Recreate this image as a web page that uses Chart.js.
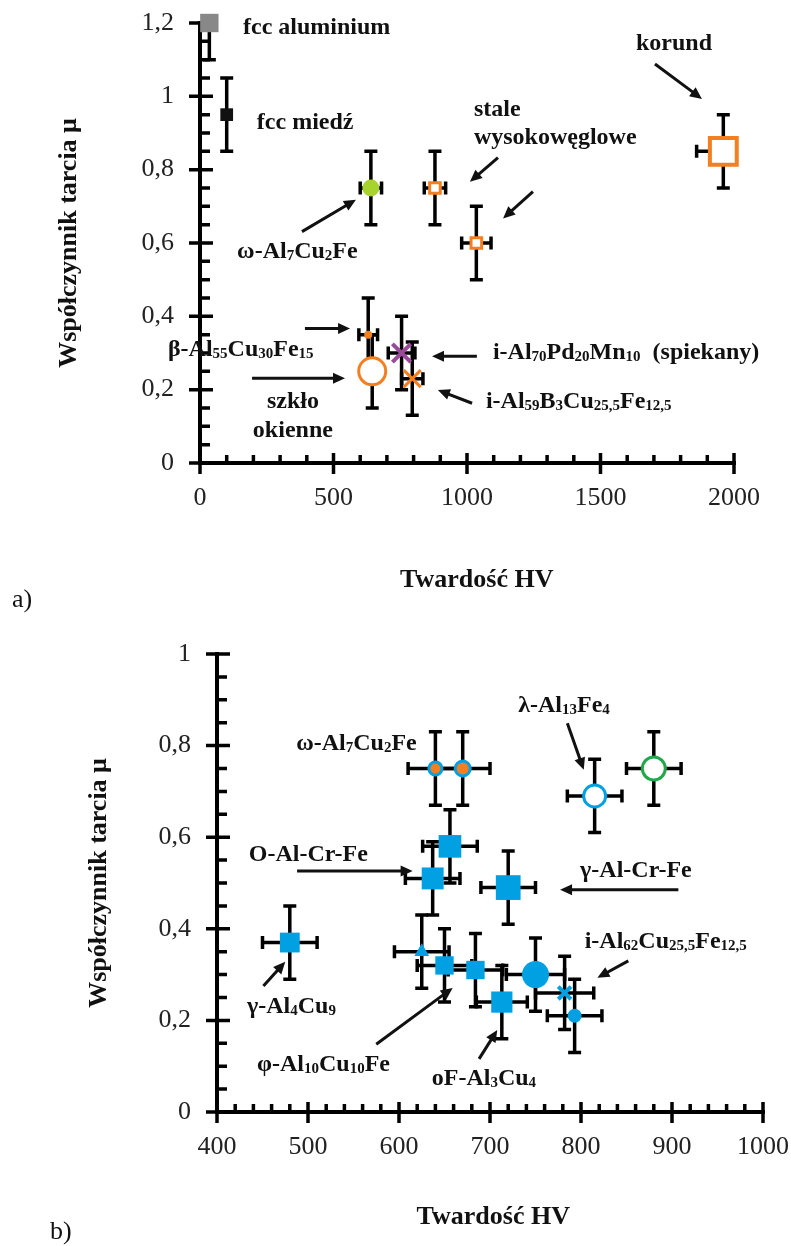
<!DOCTYPE html>
<html lang="pl">
<head>
<meta charset="utf-8">
<title>Współczynnik tarcia a twardość HV</title>
<script src="https://cdn.jsdelivr.net/npm/chart.js@4.4.1/dist/chart.umd.min.js"></script>
<style>
  html, body { margin: 0; padding: 0; background: #fff; }
  #page { position: relative; width: 791px; height: 1246px; overflow: hidden; }
  canvas { position: absolute; left: 0; }
  #chartA { top: 0; }
  #chartB { top: 620px; }
  .panel { position: absolute; font: 26px "Liberation Serif", serif; color: #111; line-height: 30px; }
</style>
</head>
<body>
<div id="page">
  <canvas id="chartA" width="791" height="620"></canvas>
  <canvas id="chartB" width="791" height="626"></canvas>
  <div class="panel" style="left:12px; top:584px">a)</div>
  <div class="panel" style="left:50px; top:1216px">b)</div>
</div>
<script>
// ---------- panel a) ----------
const hvA = [35, 100, 640, 880, 1035, 1960, 630, 645, 755, 795];
const muA = [1.2, 0.95, 0.75, 0.75, 0.6, 0.85, 0.35, 0.25, 0.3, 0.23];
const hvErrA = [0, 0, 40, 40, 55, 100, 35, 0, 50, 40];
const muErrA = [0.1, 0.1, 0.1, 0.1, 0.1, 0.1, 0.1, 0.1, 0.1, 0.1];
const xMajorA = [0, 500, 1000, 1500, 2000];
const yMajorA = [0, 0.2, 0.4, 0.6, 0.8, 1, 1.2];

// ---------- panel b) ----------
const hvB = [640, 670, 815, 880, 656, 637, 720, 480, 625, 650, 684, 713, 750, 782, 793];
const muB = [0.75, 0.75, 0.69, 0.75, 0.58, 0.51, 0.49, 0.37, 0.35, 0.32, 0.31, 0.24, 0.3, 0.26, 0.21];
const hvErrB = [30, 30, 30, 30, 30, 30, 30, 30, 30, 30, 30, 28, 32, 32, 30];
const muErrB = [0.08, 0.08, 0.08, 0.08, 0.08, 0.08, 0.08, 0.08, 0.08, 0.08, 0.08, 0.08, 0.08, 0.08, 0.08];
const xMajorB = [400, 500, 600, 700, 800, 900, 1000];
const yMajorB = [0, 0.2, 0.4, 0.6, 0.8, 1];

// marker looks (same order as data)
const ORANGE = "#f47f20", BLUE = "#00a0e3";
const markA = [
  { s: "rect", r: 13, bg: "#888", bc: "#888", bw: 0 },
  { s: "rect", r: 9, bg: "#111", bc: "#111", bw: 0 },
  { s: "circle", r: 8.5, bg: "#a6d32e", bc: "#a6d32e", bw: 0 },
  { s: "rect", r: 7.5, bg: "#fff", bc: ORANGE, bw: 3 },
  { s: "rect", r: 7.5, bg: "#fff", bc: ORANGE, bw: 3 },
  { s: "rect", r: 19, bg: "#fff", bc: ORANGE, bw: 4 },
  { s: "circle", r: 4, bg: ORANGE, bc: ORANGE, bw: 0 },
  { s: "circle", r: 13.5, bg: "#fff", bc: ORANGE, bw: 3 },
  { s: "crossRot", r: 13, bg: "#9b4a9b", bc: "#9b4a9b", bw: 4 },
  { s: "crossRot", r: 12, bg: ORANGE, bc: ORANGE, bw: 3 },
];
const markB = [
  { s: "circle", r: 6.5, bg: ORANGE, bc: BLUE, bw: 3 },
  { s: "circle", r: 7.5, bg: ORANGE, bc: BLUE, bw: 3 },
  { s: "circle", r: 11, bg: "#fff", bc: BLUE, bw: 3 },
  { s: "circle", r: 11.5, bg: "#fff", bc: "#22a84a", bw: 3 },
  { s: "rect", r: 16, bg: BLUE, bc: BLUE, bw: 0 },
  { s: "rect", r: 15.5, bg: BLUE, bc: BLUE, bw: 0 },
  { s: "rect", r: 17.5, bg: BLUE, bc: BLUE, bw: 0 },
  { s: "rect", r: 14, bg: BLUE, bc: BLUE, bw: 0 },
  { s: "triangle", r: 8.5, bg: BLUE, bc: BLUE, bw: 0 },
  { s: "rect", r: 13, bg: BLUE, bc: BLUE, bw: 0 },
  { s: "rect", r: 13, bg: BLUE, bc: BLUE, bw: 0 },
  { s: "rect", r: 15, bg: BLUE, bc: BLUE, bw: 0 },
  { s: "circle", r: 13.5, bg: BLUE, bc: BLUE, bw: 0 },
  { s: "crossRot", r: 9, bg: BLUE, bc: BLUE, bw: 4 },
  { s: "circle", r: 7, bg: BLUE, bc: BLUE, bw: 0 },
];

// labels: text (_ marks a subscript), left edge and baseline in data units
const labelsA = [
  { t: "fcc aluminium", x: 161, y: 1.17 },
  { t: "fcc miedź", x: 213, y: 0.912 },
  { t: "korund", x: 1633, y: 1.127 },
  { t: "stale", x: 1026, y: 0.947 },
  { t: "wysokowęglowe", x: 1026, y: 0.871 },
  { t: "ω-Al_7Cu_2Fe", x: 139, y: 0.558 },
  { t: "β-Al_55Cu_30Fe_15", x: -120, y: 0.291 },
  { t: "szkło", x: 251, y: 0.15 },
  { t: "okienne", x: 198, y: 0.071 },
  { t: "i-Al_70Pd_20Mn_10  (spiekany)", x: 1097, y: 0.283 },
  { t: "i-Al_59B_3Cu_25,5Fe_12,5", x: 1071, y: 0.15 },
];
const arrowsA = [
  [1704, 1.088, 1880, 0.993],
  [1116, 0.833, 1011, 0.767],
  [1247, 0.74, 1135, 0.667],
  [382, 0.631, 584, 0.718],
  [393, 0.367, 562, 0.367],
  [195, 0.231, 543, 0.231],
  [1037, 0.291, 869, 0.291],
  [1019, 0.163, 891, 0.199],
];
const labelsB = [
  { t: "ω-Al_7Cu_2Fe", x: 487, y: 0.79 },
  { t: "λ-Al_13Fe_4", x: 731, y: 0.873 },
  { t: "O-Al-Cr-Fe", x: 435, y: 0.548 },
  { t: "γ-Al-Cr-Fe", x: 799, y: 0.513 },
  { t: "γ-Al_4Cu_9", x: 433, y: 0.216 },
  { t: "φ-Al_10Cu_10Fe", x: 444, y: 0.09 },
  { t: "oF-Al_3Cu_4", x: 636, y: 0.059 },
  { t: "i-Al_62Cu_25,5Fe_12,5", x: 804, y: 0.358 },
];
const arrowsB = [
  [785, 0.849, 803, 0.747],
  [488, 0.526, 615, 0.526],
  [907, 0.485, 777, 0.485],
  [451, 0.275, 475, 0.328],
  [575, 0.148, 659, 0.271],
  [688, 0.116, 708, 0.179],
  [852, 0.33, 818, 0.293],
];

const SERIF = '"Liberation Serif", "Times New Roman", serif';
Chart.defaults.font.family = SERIF;

function isMajor(v, list) {
  return list.some((m) => Math.abs(m - v) < 1e-6);
}

function drawRich(ctx, text, x, y) {
  const parts = text.split(/_([\d,]+)/);
  let cx = x;
  parts.forEach((p, i) => {
    if (!p) return;
    const sub = i % 2 === 1;
    ctx.font = sub ? "bold 15px " + SERIF : "bold 24px " + SERIF;
    ctx.fillText(p, cx, y + (sub ? 2 : 0));
    cx += ctx.measureText(p).width;
  });
}

function drawArrow(ctx, x1, y1, x2, y2) {
  const ang = Math.atan2(y2 - y1, x2 - x1);
  const head = 12, half = 5.5;
  const c = Math.cos(ang), s = Math.sin(ang);
  ctx.beginPath();
  ctx.moveTo(x1, y1);
  ctx.lineTo(x2 - c * head * 0.7, y2 - s * head * 0.7);
  ctx.stroke();
  ctx.beginPath();
  ctx.moveTo(x2, y2);
  ctx.lineTo(x2 - c * head - s * half, y2 - s * head + c * half);
  ctx.lineTo(x2 - c * head + s * half, y2 - s * head - c * half);
  ctx.closePath();
  ctx.fill();
}

// axis lines with major ticks across and minor ticks inside
const axesPlugin = {
  id: "axesPlugin",
  beforeDatasetsDraw(chart) {
    const { ctx, chartArea: a, scales } = chart;
    const x = scales.x, y = scales.y;
    ctx.save();
    ctx.strokeStyle = "#000";
    ctx.lineCap = "butt";
    ctx.lineWidth = 4;
    ctx.beginPath();
    ctx.moveTo(a.left, a.top - 2);
    ctx.lineTo(a.left, a.bottom);
    ctx.lineTo(a.right + 2, a.bottom);
    ctx.stroke();
    ctx.lineWidth = 3.5;
    ctx.beginPath();
    y.ticks.forEach((t) => {
      const py = y.getPixelForValue(t.value);
      if (t.label !== "") {
        ctx.moveTo(a.left - 11, py);
        ctx.lineTo(a.left + 13, py);
      } else {
        ctx.moveTo(a.left, py);
        ctx.lineTo(a.left + 10, py);
      }
    });
    x.ticks.forEach((t) => {
      const px = x.getPixelForValue(t.value);
      if (t.label !== "") {
        ctx.moveTo(px, a.bottom + 11);
        ctx.lineTo(px, a.bottom - 10);
      } else {
        ctx.moveTo(px, a.bottom);
        ctx.lineTo(px, a.bottom - 8);
      }
    });
    ctx.stroke();
    ctx.restore();
  },
};

// error bars (drawn under the markers)
const errorPlugin = {
  id: "errorPlugin",
  beforeDatasetsDraw(chart) {
    const { ctx, chartArea: a, scales } = chart;
    const ds = chart.data.datasets[0];
    ctx.save();
    ctx.beginPath();
    ctx.rect(a.left, a.top, a.right - a.left, a.bottom - a.top);
    ctx.clip();
    ctx.strokeStyle = "#000";
    ctx.lineWidth = 3.5;
    ds.data.forEach((p, i) => {
      const px = scales.x.getPixelForValue(p.x);
      const py = scales.y.getPixelForValue(p.y);
      const cap = 6.5;
      const ey = ds.yErr[i], ex = ds.xErr[i];
      ctx.beginPath();
      if (ey) {
        const top = scales.y.getPixelForValue(p.y + ey);
        const bot = scales.y.getPixelForValue(p.y - ey);
        ctx.moveTo(px, top); ctx.lineTo(px, bot);
        ctx.moveTo(px - cap, top); ctx.lineTo(px + cap, top);
        ctx.moveTo(px - cap, bot); ctx.lineTo(px + cap, bot);
      }
      if (ex) {
        const l = scales.x.getPixelForValue(p.x - ex);
        const r = scales.x.getPixelForValue(p.x + ex);
        ctx.moveTo(l, py); ctx.lineTo(r, py);
        ctx.moveTo(l, py - cap); ctx.lineTo(l, py + cap);
        ctx.moveTo(r, py - cap); ctx.lineTo(r, py + cap);
      }
      ctx.stroke();
    });
    ctx.restore();
  },
};

// text labels and arrows
const notePlugin = {
  id: "notePlugin",
  afterDatasetsDraw(chart, args, opts) {
    const { ctx, scales } = chart;
    const X = (v) => scales.x.getPixelForValue(v);
    const Y = (v) => scales.y.getPixelForValue(v);
    ctx.save();
    ctx.fillStyle = "#111";
    ctx.strokeStyle = "#111";
    ctx.lineWidth = 3;
    ctx.textAlign = "left";
    ctx.textBaseline = "alphabetic";
    opts.labels.forEach((l) => drawRich(ctx, l.t, X(l.x), Y(l.y)));
    opts.arrows.forEach((a) => drawArrow(ctx, X(a[0]), Y(a[1]), X(a[2]), Y(a[3])));
    ctx.restore();
  },
};

function makeChart(id, o) {
  return new Chart(document.getElementById(id), {
    type: "scatter",
    data: {
      datasets: [
        {
          data: o.hv.map((v, i) => ({ x: v, y: o.mu[i] })),
          xErr: o.hvErr,
          yErr: o.muErr,
          pointStyle: o.marks.map((m) => m.s),
          pointRadius: o.marks.map((m) => m.r),
          pointHoverRadius: o.marks.map((m) => m.r),
          pointBackgroundColor: o.marks.map((m) => m.bg),
          pointBorderColor: o.marks.map((m) => m.bc),
          pointBorderWidth: o.marks.map((m) => m.bw),
          clip: false,
        },
      ],
    },
    options: {
      responsive: false,
      animation: false,
      devicePixelRatio: 1,
      layout: { padding: o.pad },
      plugins: {
        legend: { display: false },
        tooltip: { enabled: false },
        notePlugin: { labels: o.labels, arrows: o.arrows },
      },
      scales: {
        x: {
          type: "linear",
          min: o.xMin,
          max: o.xMax,
          // tick marks are drawn by axesPlugin; tickLength only spaces the labels
          grid: { display: false, drawTicks: true, tickLength: 20 },
          border: { display: false },
          afterFit: (s) => { s.height = o.xHeight; },
          ticks: {
            stepSize: o.xStep,
            maxTicksLimit: 200,
            autoSkip: false,
            maxRotation: 0,
            padding: 0,
            color: "#222",
            font: { size: 26 },
            callback: (v) => (isMajor(v, o.xMajor) ? String(v) : ""),
          },
          title: {
            display: true,
            text: o.xTitle,
            color: "#111",
            font: { size: 26, weight: "bold" },
            padding: { top: 0, bottom: o.xTitlePad },
          },
        },
        y: {
          type: "linear",
          min: 0,
          max: o.yMax,
          grid: { display: false, drawTicks: true, tickLength: 26 },
          border: { display: false },
          afterFit: (s) => { s.width = o.yWidth; },
          ticks: {
            stepSize: 0.05,
            maxTicksLimit: 200,
            autoSkip: false,
            padding: 0,
            color: "#222",
            font: { size: 26 },
            callback: (v) =>
              isMajor(v, o.yMajor) ? String(Math.round(v * 10) / 10).replace(".", ",") : "",
          },
          title: {
            display: true,
            text: "Współczynnik tarcia μ",
            color: "#111",
            font: { size: 26, weight: "bold" },
            padding: { top: o.yTitlePad, bottom: 0 },
          },
        },
      },
    },
    plugins: [axesPlugin, errorPlugin, notePlugin],
  });
}

makeChart("chartA", {
  hv: hvA, mu: muA, hvErr: hvErrA, muErr: muErrA, marks: markA,
  labels: labelsA, arrows: arrowsA,
  xMin: 0, xMax: 2000, xStep: 100, xMajor: xMajorA,
  yMax: 1.2, yMajor: yMajorA,
  pad: { top: 22, right: 57, left: 0, bottom: 0 },
  xHeight: 157, yWidth: 200, xTitlePad: 24, yTitlePad: 54,
  xTitle: "   Twardość HV",
});

makeChart("chartB", {
  hv: hvB, mu: muB, hvErr: hvErrB, muErr: muErrB, marks: markB,
  labels: labelsB, arrows: arrowsB,
  xMin: 400, xMax: 1000, xStep: 20, xMajor: xMajorB,
  yMax: 1, yMajor: yMajorB,
  pad: { top: 34, right: 28, left: 0, bottom: 0 },
  xHeight: 134, yWidth: 217, xTitlePad: 13, yTitlePad: 84,
  xTitle: " Twardość HV",
});
</script>
</body>
</html>
